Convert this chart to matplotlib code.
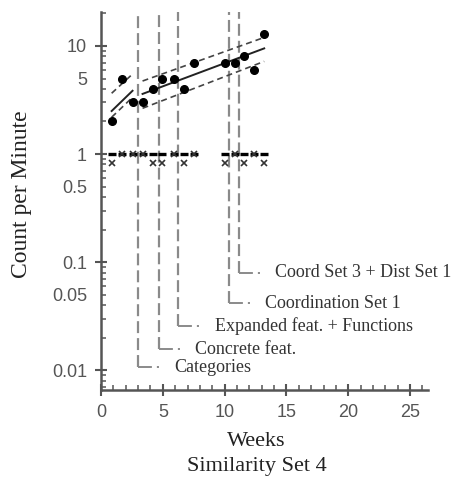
import matplotlib.pyplot as plt

plt.rcParams['lines.scale_dashes'] = False

# session data
weeks = [0.86, 1.67, 2.55, 3.36, 4.17, 4.97, 5.9, 6.7, 7.5, 10.0, 10.8, 11.6, 12.4, 13.2]
correct = [2.0, 5.0, 3.0, 3.0, 4.0, 5.0, 5.0, 4.0, 7.0, 7.0, 7.0, 8.0, 6.0, 13.0]
errors = [0, 1, 1, 1, 0, 0, 1, 0, 1, 0, 1, 0, 1, 0]
record_floor = 1.0
zero_row = 0.82  # zero counts are drawn just below the floor

# celeration lines (start / end of each phase)
trend1_x = [0.86, 2.55]
trend1_mid = [2.5, 3.85]
trend1_up = [3.65, 5.5]
trend1_lo = [2.19, 3.35]
trend2_x = [3.36, 13.2]
trend2_mid = [3.6, 9.5]
trend2_up = [4.74, 12.0]
trend2_lo = [2.65, 7.2]

# phase change lines
phase_weeks = [2.96, 4.68, 6.23, 10.35, 11.13]
phase_labels = ["Categories", "Concrete feat.", "Expanded feat. + Functions",
                "Coordination Set 1", "Coord Set 3 + Dist Set 1"]
phase_label_y = [0.0106, 0.0156, 0.0255, 0.0417, 0.0796]

ymin, ymax = 0.00653, 20.8

fig = plt.figure(figsize=(4.55, 4.84), dpi=100)
ax = fig.add_axes([0.222, 0.194, 0.7187, 0.782])
ax.set_yscale('log')

for wx, lab, ly in zip(phase_weeks, phase_labels, phase_label_y):
    ax.plot([wx, wx], [ly, ymax], color='#8a8a8a', lw=1.6, dashes=(8.6, 3.6), zorder=1)
    ax.plot([wx, wx + 1.75], [ly, ly], color='#8a8a8a', lw=1.4,
            dashes=(10, 3.6, 1.5, 60), zorder=1)
    ax.text(wx + 2.95, ly, lab, fontsize=13, family='Liberation Serif',
            color='#333333', va='center', ha='left')

ax.plot(trend1_x, trend1_mid, color='#222222', lw=1.4, zorder=3)
ax.plot(trend2_x, trend2_mid, color='#222222', lw=1.4, zorder=3)
for xs, ys in [(trend1_x, trend1_up), (trend1_x, trend1_lo),
               (trend2_x, trend2_up), (trend2_x, trend2_lo)]:
    ax.plot(xs, ys, color='#444444', lw=1.2, dashes=(4.3, 2.9), zorder=3)

ax.plot(weeks, correct, 'o', color='black', ms=5.5, zorder=4, ls='none')
ax.plot(weeks, [record_floor] * len(weeks), '_', color='black', ms=5.8, mew=2.4,
        ls='none', zorder=4)
err_y = [e if e > 0 else zero_row for e in errors]
ax.plot(weeks, err_y, 'x', color='#333333', ms=4.5, mew=1.2, ls='none', zorder=5)

for s in ['top', 'right']:
    ax.spines[s].set_visible(False)
for s in ['left', 'bottom']:
    ax.spines[s].set_color('#555555')
    ax.spines[s].set_linewidth(1.8)

ax.set_xticks([0, 5, 10, 15, 20, 25])
ax.set_xticks(range(0, 27), minor=True)
ax.set_yticks([0.01, 0.1, 1, 10], labels=['0.01', '0.1', '1', '10'])
minor_pos = []
minor_lab = []
for dec in [0.001, 0.01, 0.1, 1, 10]:
    for m in range(2, 10):
        v = dec * m
        if ymin <= v <= ymax:
            minor_pos.append(v)
            minor_lab.append(f"{v:g}" if m == 5 else "")
ax.set_yticks(minor_pos, labels=minor_lab, minor=True)
ax.set_xlim(0, 26.45)
ax.set_ylim(ymin, ymax)

ax.tick_params(which='major', direction='inout', length=8, width=1.5,
               color='#555555', labelsize=13, labelcolor='#555555', pad=6)
ax.tick_params(which='minor', direction='in', length=3.5, width=1.1,
               color='#555555', labelsize=13, labelcolor='#555555', pad=10)
for t in ax.get_xticklabels() + ax.get_yticklabels() + ax.get_yticklabels(minor=True):
    t.set_family('Liberation Sans')

fig.text(0.564, 0.087, "Weeks", fontsize=16, family='Liberation Serif',
         ha='center', va='center', color='#222222')
fig.text(0.564, 0.036, "Similarity Set 4", fontsize=16, family='Liberation Serif',
         ha='center', va='center', color='#222222')
fig.text(0.048, 0.599, "Count per Minute", fontsize=17, family='Liberation Serif',
         rotation=90, ha='center', va='center', color='#222222')

fig.savefig('out.png', dpi=100)
